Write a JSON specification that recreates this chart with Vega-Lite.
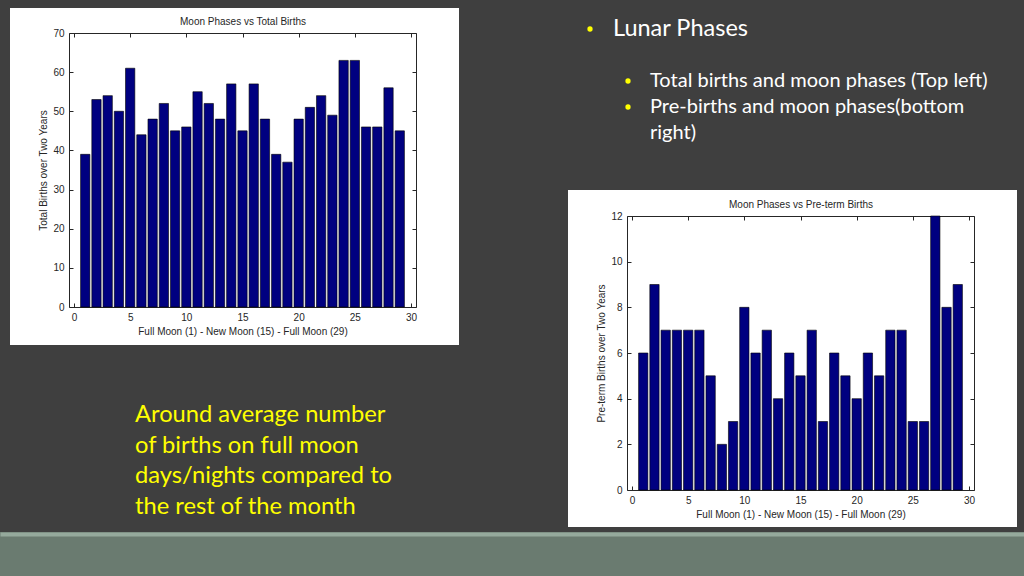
{
  "$schema": "https://vega.github.io/schema/vega-lite/v6.json",
  "background": "#3f3f3f",
  "padding": {"left": 0, "top": 8, "right": 0, "bottom": 0},
  "config": {
    "view": {"stroke": null},
    "font": "Liberation Sans",
    "axis": {
      "grid": false,
      "labelFont": "Liberation Sans",
      "labelFontSize": 10,
      "labelColor": "#262626",
      "titleFont": "Liberation Sans",
      "titleFontSize": 10,
      "titleFontWeight": "normal",
      "titleColor": "#262626",
      "domainColor": "#262626",
      "tickColor": "#262626",
      "tickSize": -4,
      "labelFlush": false,
      "labelOverlap": false
    }
  },
  "datasets": {
    "total": [
      {"day": 1, "births": 39}, {"day": 2, "births": 53}, {"day": 3, "births": 54},
      {"day": 4, "births": 50}, {"day": 5, "births": 61}, {"day": 6, "births": 44},
      {"day": 7, "births": 48}, {"day": 8, "births": 52}, {"day": 9, "births": 45},
      {"day": 10, "births": 46}, {"day": 11, "births": 55}, {"day": 12, "births": 52},
      {"day": 13, "births": 48}, {"day": 14, "births": 57}, {"day": 15, "births": 45},
      {"day": 16, "births": 57}, {"day": 17, "births": 48}, {"day": 18, "births": 39},
      {"day": 19, "births": 37}, {"day": 20, "births": 48}, {"day": 21, "births": 51},
      {"day": 22, "births": 54}, {"day": 23, "births": 49}, {"day": 24, "births": 63},
      {"day": 25, "births": 63}, {"day": 26, "births": 46}, {"day": 27, "births": 46},
      {"day": 28, "births": 56}, {"day": 29, "births": 45}
    ],
    "preterm": [
      {"day": 1, "births": 6}, {"day": 2, "births": 9}, {"day": 3, "births": 7},
      {"day": 4, "births": 7}, {"day": 5, "births": 7}, {"day": 6, "births": 7},
      {"day": 7, "births": 5}, {"day": 8, "births": 2}, {"day": 9, "births": 3},
      {"day": 10, "births": 8}, {"day": 11, "births": 6}, {"day": 12, "births": 7},
      {"day": 13, "births": 4}, {"day": 14, "births": 6}, {"day": 15, "births": 5},
      {"day": 16, "births": 7}, {"day": 17, "births": 3}, {"day": 18, "births": 6},
      {"day": 19, "births": 5}, {"day": 20, "births": 4}, {"day": 21, "births": 6},
      {"day": 22, "births": 5}, {"day": 23, "births": 7}, {"day": 24, "births": 7},
      {"day": 25, "births": 3}, {"day": 26, "births": 3}, {"day": 27, "births": 12},
      {"day": 28, "births": 8}, {"day": 29, "births": 9}
    ],
    "bullets": [
      {"line": 1, "level": 1, "dot": true, "text": "Lunar Phases"},
      {"line": 3, "level": 2, "dot": true, "text": "Total births and moon phases (Top left)"},
      {"line": 4, "level": 2, "dot": true, "text": "Pre-births and moon phases(bottom"},
      {"line": 5, "level": 2, "dot": false, "text": "right)"}
    ],
    "note": [
      {"line": 1, "indent": 0, "text": "Around average number"},
      {"line": 2, "indent": 0, "text": "of births on full moon"},
      {"line": 3, "indent": 0, "text": "days/nights compared to"},
      {"line": 4, "indent": 0, "text": "the rest of the month"}
    ]
  },
  "spacing": -3,
  "vconcat": [
    {
      "spacing": 109,
      "hconcat": [
        {
          "spacing": 15,
          "vconcat": [
            {
              "width": 449,
              "height": 337,
              "view": {"fill": "#ffffff"},
              "data": {"name": "total"},
              "encoding": {
                "x": {"field": "day", "type": "quantitative",
                  "scale": {"domain": [0, 30], "range": [59, 406], "nice": false, "zero": false}},
                "y": {"field": "births", "type": "quantitative",
                  "scale": {"domain": [0, 70], "range": [299, 25], "nice": false}}
              },
              "layer": [
                {
                  "mark": {"type": "bar", "width": 9.3, "fill": "#000080", "stroke": "#000000", "strokeWidth": 0.6},
                  "encoding": {
                    "x": {"field": "day", "type": "quantitative",
                      "axis": {"orient": "bottom", "offset": -38, "values": [0, 5, 10, 15, 20, 25, 30],
                        "labelPadding": 9, "title": "Full Moon (1) - New Moon (15) - Full Moon (29)", "titlePadding": 4}},
                    "y": {"field": "births", "type": "quantitative",
                      "axis": {"orient": "left", "offset": -59, "values": [0, 10, 20, 30, 40, 50, 60, 70],
                        "labelPadding": 9, "title": "Total Births over Two Years", "titlePadding": 4}}
                  }
                },
                {
                  "mark": {"type": "bar", "width": 9.3, "opacity": 0},
                  "encoding": {
                    "x": {"field": "day", "type": "quantitative",
                      "axis": {"orient": "top", "offset": -25, "values": [0, 5, 10, 15, 20, 25, 30],
                        "labels": false, "title": "Moon Phases vs Total Births", "titlePadding": 6}},
                    "y": {"field": "births", "type": "quantitative",
                      "axis": {"orient": "right", "offset": -43, "values": [0, 10, 20, 30, 40, 50, 60, 70],
                        "labels": false, "title": null}}
                  }
                }
              ],
              "resolve": {"axis": {"x": "independent", "y": "independent"}}
            },
            {
              "width": 440,
              "height": 150,
              "data": {"name": "note"},
              "mark": {"type": "text", "align": "left", "baseline": "middle", "font": "Lato", "fontSize": 23.7, "color": "#ffff00"},
              "encoding": {
                "x": {"field": "indent", "type": "quantitative", "scale": {"domain": [0, 1], "range": [125, 440]}, "axis": null},
                "y": {"field": "line", "type": "quantitative", "scale": {"domain": [1, 4], "range": [55, 147]}, "axis": null},
                "text": {"field": "text"}
              }
            }
          ]
        },
        {
          "spacing": 32,
          "vconcat": [
            {
              "width": 449,
              "height": 150,
              "data": {"name": "bullets"},
              "layer": [
                {
                  "transform": [{"filter": "datum.dot"}],
                  "mark": {"type": "circle", "color": "#ffff00", "opacity": 1, "size": 28},
                  "encoding": {
                    "x": {"field": "level", "type": "quantitative", "scale": {"domain": [1, 2], "range": [22, 60]}, "axis": null},
                    "y": {"field": "line", "type": "quantitative", "scale": {"domain": [1, 5], "range": [21, 125]}, "axis": null}
                  }
                },
                {
                  "mark": {"type": "text", "align": "left", "baseline": "middle", "font": "Lato", "color": "#ffffff"},
                  "encoding": {
                    "x": {"field": "level", "type": "quantitative", "scale": {"domain": [1, 2], "range": [45, 82]}, "axis": null},
                    "y": {"field": "line", "type": "quantitative", "scale": {"domain": [1, 5], "range": [21, 125]}, "axis": null},
                    "size": {"field": "level", "type": "quantitative", "scale": {"domain": [1, 2], "range": [23.5, 20]}, "legend": null},
                    "text": {"field": "text"}
                  }
                }
              ],
              "resolve": {"scale": {"x": "independent"}}
            },
            {
              "width": 449,
              "height": 337,
              "view": {"fill": "#ffffff"},
              "data": {"name": "preterm"},
              "encoding": {
                "x": {"field": "day", "type": "quantitative",
                  "scale": {"domain": [0, 30], "range": [59, 406], "nice": false, "zero": false}},
                "y": {"field": "births", "type": "quantitative",
                  "scale": {"domain": [0, 12], "range": [300, 26], "nice": false}}
              },
              "layer": [
                {
                  "mark": {"type": "bar", "width": 9.3, "fill": "#000080", "stroke": "#000000", "strokeWidth": 0.6},
                  "encoding": {
                    "x": {"field": "day", "type": "quantitative",
                      "axis": {"orient": "bottom", "offset": -37, "values": [0, 5, 10, 15, 20, 25, 30],
                        "labelPadding": 9, "title": "Full Moon (1) - New Moon (15) - Full Moon (29)", "titlePadding": 4}},
                    "y": {"field": "births", "type": "quantitative",
                      "axis": {"orient": "left", "offset": -59, "values": [0, 2, 4, 6, 8, 10, 12],
                        "labelPadding": 9, "title": "Pre-term Births over Two Years", "titlePadding": 4}}
                  }
                },
                {
                  "mark": {"type": "bar", "width": 9.3, "opacity": 0},
                  "encoding": {
                    "x": {"field": "day", "type": "quantitative",
                      "axis": {"orient": "top", "offset": -26, "values": [0, 5, 10, 15, 20, 25, 30],
                        "labels": false, "title": "Moon Phases vs Pre-term Births", "titlePadding": 6}},
                    "y": {"field": "births", "type": "quantitative",
                      "axis": {"orient": "right", "offset": -43, "values": [0, 2, 4, 6, 8, 10, 12],
                        "labels": false, "title": null}}
                  }
                }
              ],
              "resolve": {"axis": {"x": "independent", "y": "independent"}}
            }
          ]
        }
      ]
    },
    {
      "width": 1020,
      "height": 40,
      "view": {"fill": "#6a7b70", "stroke": "#6a7b70", "strokeWidth": 20},
      "data": {"values": []},
      "mark": "rule",
      "encoding": {
        "x": {"datum": 0, "type": "quantitative",
          "scale": {"domain": [0, 1], "range": [-10, 1034]},
          "axis": {"orient": "top", "offset": 8, "domainColor": "#95a99c", "domainWidth": 4,
            "ticks": false, "labels": false, "title": null}}
      }
    }
  ]
}
